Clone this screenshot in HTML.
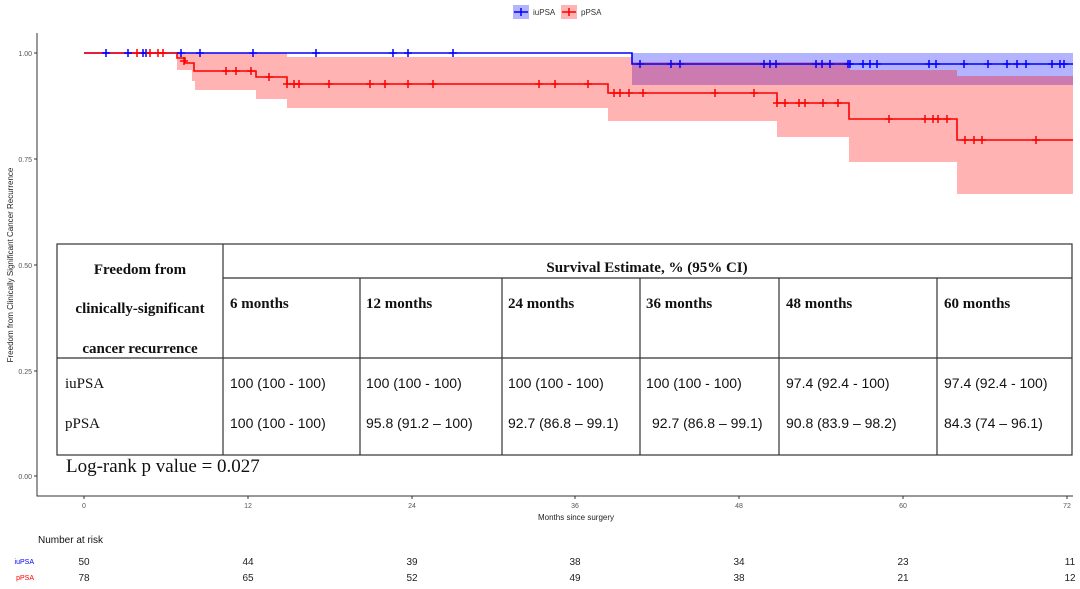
<!DOCTYPE html>
<html><head><meta charset="utf-8"><style>
body{margin:0;background:#fff}
svg{display:block}
.t{font-family:"Liberation Sans",sans-serif}
.s{font-family:"Liberation Serif",serif}
</style></head><body>
<svg width="1080" height="589" viewBox="0 0 1080 589" xmlns="http://www.w3.org/2000/svg">
<defs>
<path id="pb" d="M-4,0H4M0,-4V4" stroke="#00f" stroke-width="1.5"/>
<path id="pr" d="M-4,0H4M0,-4V4" stroke="#f00" stroke-width="1.5"/>
</defs>
<!-- legend -->
<rect x="513" y="5" width="16" height="14" fill="#b3b3ff"/>
<path d="M514,12H528M521,8V16" stroke="#00f" stroke-width="1.5"/>
<text x="533" y="15" class="t" font-size="8" fill="#333">iuPSA</text>
<rect x="561" y="5" width="16" height="14" fill="#ffb3b3"/>
<path d="M562,12H576M569,8V16" stroke="#f00" stroke-width="1.5"/>
<text x="581" y="15" class="t" font-size="8" fill="#333">pPSA</text>
<!-- red CI -->
<path d="M177,53V70H192V81H195V90H256V99H287V108H608V121H777V137H849V162H957V194H1073V76H957V70H850V62H632V57H287V53Z" fill="#ffb3b3"/>
<!-- blue CI -->
<rect x="632" y="53" width="441" height="32" fill="#b3b3ff"/>
<!-- overlap -->
<path d="M632,62H850V70H957V76H1073V85H632Z" fill="#cc7bb0"/>
<!-- curves -->
<path d="M84,53H632V64H1073" fill="none" stroke="#00f" stroke-width="1.6"/>
<path d="M84,53H177V58H185V63H194V71H256V77H287V84H608V93H777V103H849V119H957V140H1073" fill="none" stroke="#f00" stroke-width="1.6"/>
<!-- censor marks -->
<g>
<use href="#pb" x="106" y="53"/><use href="#pb" x="128" y="53"/><use href="#pb" x="143" y="53"/><use href="#pb" x="146" y="53"/><use href="#pb" x="181" y="53"/><use href="#pb" x="200" y="53"/><use href="#pb" x="253" y="53"/><use href="#pb" x="316" y="53"/><use href="#pb" x="393" y="53"/><use href="#pb" x="408" y="53"/><use href="#pb" x="453" y="53"/>
<use href="#pr" x="137" y="53"/><use href="#pr" x="150" y="53"/><use href="#pr" x="158" y="53"/><use href="#pr" x="163" y="53"/>
<use href="#pr" x="184" y="61"/><use href="#pr" x="226" y="71"/><use href="#pr" x="236" y="71"/><use href="#pr" x="251" y="71"/><use href="#pr" x="269" y="77"/>
<use href="#pr" x="287" y="84"/><use href="#pr" x="294" y="84"/><use href="#pr" x="299" y="84"/><use href="#pr" x="329" y="84"/><use href="#pr" x="370" y="84"/><use href="#pr" x="385" y="84"/><use href="#pr" x="408" y="84"/><use href="#pr" x="433" y="84"/><use href="#pr" x="539" y="84"/><use href="#pr" x="555" y="84"/><use href="#pr" x="588" y="84"/>
<use href="#pr" x="614" y="93"/><use href="#pr" x="620" y="93"/><use href="#pr" x="629" y="93"/><use href="#pr" x="643" y="93"/><use href="#pr" x="715" y="93"/><use href="#pr" x="754" y="93"/>
<use href="#pr" x="777" y="103"/><use href="#pr" x="785" y="103"/><use href="#pr" x="799" y="103"/><use href="#pr" x="805" y="103"/><use href="#pr" x="823" y="103"/><use href="#pr" x="838" y="103"/>
<use href="#pr" x="889" y="119"/><use href="#pr" x="925" y="119"/><use href="#pr" x="933" y="119"/><use href="#pr" x="938" y="119"/><use href="#pr" x="947" y="119"/>
<use href="#pr" x="965" y="140"/><use href="#pr" x="974" y="140"/><use href="#pr" x="982" y="140"/><use href="#pr" x="1036" y="140"/>
<use href="#pb" x="640" y="64"/><use href="#pb" x="671" y="64"/><use href="#pb" x="680" y="64"/><use href="#pb" x="764" y="64"/><use href="#pb" x="770" y="64"/><use href="#pb" x="776" y="64"/><use href="#pb" x="816" y="64"/><use href="#pb" x="822" y="64"/><use href="#pb" x="830" y="64"/><use href="#pb" x="848" y="64"/><use href="#pb" x="850" y="64"/><use href="#pb" x="863" y="64"/><use href="#pb" x="870" y="64"/><use href="#pb" x="877" y="64"/><use href="#pb" x="929" y="64"/><use href="#pb" x="936" y="64"/><use href="#pb" x="964" y="64"/><use href="#pb" x="988" y="64"/><use href="#pb" x="1007" y="64"/><use href="#pb" x="1017" y="64"/><use href="#pb" x="1026" y="64"/><use href="#pb" x="1052" y="64"/><use href="#pb" x="1060" y="64"/><use href="#pb" x="1064" y="64"/>
</g>
<!-- axes -->
<path d="M37,33V496H1073" fill="none" stroke="#333" stroke-width="1"/>
<g stroke="#333"><path d="M34,53H37M34,159H37M34,265H37M34,371H37M34,476H37"/>
<path d="M84,496V499M248,496V499M412,496V499M575,496V499M739,496V499M903,496V499M1067,496V499"/></g>
<g class="t" font-size="7" fill="#555" text-anchor="end">
<text x="32" y="56">1.00</text><text x="32" y="162">0.75</text><text x="32" y="268">0.50</text><text x="32" y="374">0.25</text><text x="32" y="479">0.00</text></g>
<g class="t" font-size="7" fill="#555" text-anchor="middle">
<text x="84" y="508">0</text><text x="248" y="508">12</text><text x="412" y="508">24</text><text x="575" y="508">36</text><text x="739" y="508">48</text><text x="903" y="508">60</text><text x="1067" y="508">72</text></g>
<text x="576" y="520" class="t" font-size="8" fill="#222" text-anchor="middle">Months since surgery</text>
<text transform="translate(13,265) rotate(-90)" class="t" font-size="8" fill="#222" text-anchor="middle">Freedom from Clinically Significant Cancer Recurrence</text>
<!-- table -->
<rect x="57" y="244" width="1015" height="211" fill="#fff" stroke="#333" stroke-width="1.2"/>
<g stroke="#333" stroke-width="1.2">
<path d="M223,244V455M223,278H1072M57,358H1072M360,278V455M502,278V455M640,278V455M779,278V455M937,278V455"/></g>
<g class="s" font-size="15" font-weight="bold" fill="#111">
<text x="140" y="274" text-anchor="middle">Freedom from</text>
<text x="140" y="313" text-anchor="middle">clinically-significant</text>
<text x="140" y="353" text-anchor="middle">cancer recurrence</text>
<text x="647" y="272" text-anchor="middle">Survival Estimate, % (95% CI)</text>
<text x="230" y="308">6 months</text><text x="366" y="308">12 months</text><text x="508" y="308">24 months</text><text x="646" y="308">36 months</text><text x="786" y="308">48 months</text><text x="944" y="308">60 months</text>
</g>
<g class="s" font-size="15" fill="#111"><text x="65" y="388">iuPSA</text><text x="65" y="428">pPSA</text></g>
<g class="t" font-size="14" fill="#111">
<text x="230" y="388">100 (100 - 100)</text><text x="366" y="388">100 (100 - 100)</text><text x="508" y="388">100 (100 - 100)</text><text x="646" y="388">100 (100 - 100)</text><text x="786" y="388">97.4 (92.4 - 100)</text><text x="944" y="388">97.4 (92.4 - 100)</text>
<text x="230" y="428">100 (100 - 100)</text><text x="366" y="428">95.8 (91.2 – 100)</text><text x="508" y="428">92.7 (86.8 – 99.1)</text><text x="652" y="428">92.7 (86.8 – 99.1)</text><text x="786" y="428">90.8 (83.9 – 98.2)</text><text x="944" y="428">84.3 (74 – 96.1)</text>
</g>
<text x="66" y="472" class="s" font-size="19" fill="#111">Log-rank p value = 0.027</text>
<!-- risk table -->
<text x="38" y="543" class="t" font-size="10" fill="#111">Number at risk</text>
<text x="34" y="564" class="t" font-size="7" fill="#00f" text-anchor="end">iuPSA</text>
<text x="34" y="580" class="t" font-size="7" fill="#f00" text-anchor="end">pPSA</text>
<g class="t" font-size="10" fill="#222" text-anchor="middle">
<text x="84" y="565">50</text><text x="248" y="565">44</text><text x="412" y="565">39</text><text x="575" y="565">38</text><text x="739" y="565">34</text><text x="903" y="565">23</text><text x="1070" y="565">11</text>
<text x="84" y="581">78</text><text x="248" y="581">65</text><text x="412" y="581">52</text><text x="575" y="581">49</text><text x="739" y="581">38</text><text x="903" y="581">21</text><text x="1070" y="581">12</text>
</g>
</svg>
</body></html>
